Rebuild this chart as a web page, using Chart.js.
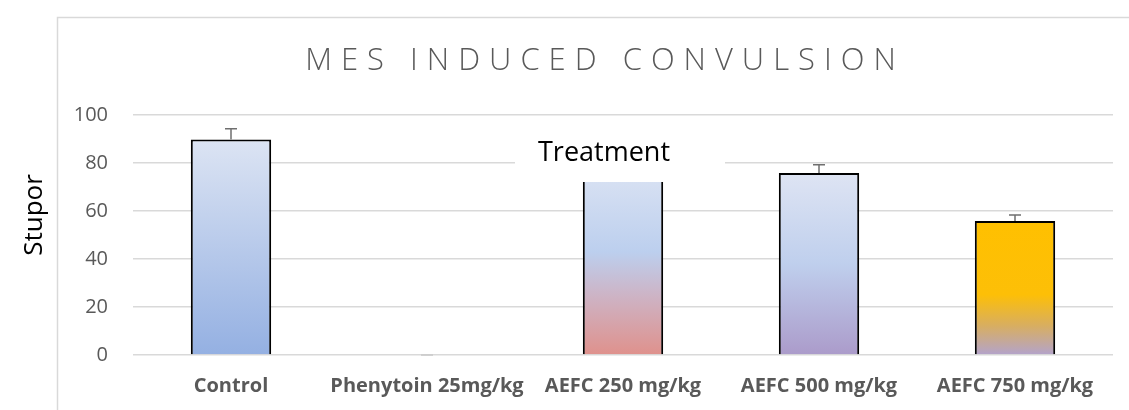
<!DOCTYPE html>
<html>
<head>
<meta charset="utf-8">
<script src="https://cdn.jsdelivr.net/npm/chart.js@4.4.1/dist/chart.umd.min.js"></script>
<style>
  html, body { margin: 0; padding: 0; background: #fff; }
  #wrap { width: 1129px; height: 410px; }
</style>
</head>
<body>
<div id="wrap"><canvas id="chart-mes"></canvas></div>
<script>
const categories = ['Control', 'Phenytoin 25mg/kg', 'AEFC 250 mg/kg', 'AEFC 500 mg/kg', 'AEFC 750 mg/kg'];
const stupor = [89.8, 0, 78, 75.8, 55.8];
const stuporErr = [4.5, 0, 4, 3.5, 2.5];
const yTicks = [0, 20, 40, 60, 80, 100];

// gradient stops per bar (top -> bottom)
const barStops = [
  [[0, '#dce4f3'], [1, '#94b0e2']],
  [[0, '#dce4f3'], [1, '#94b0e2']],
  [[0, '#dbe3f3'], [0.45, '#bccfee'], [0.68, '#cdb4c6'], [1, '#df918c']],
  [[0, '#dee4f3'], [0.5, '#bfcfed'], [1, '#ab9bca']],
  [[0, '#ffc000'], [0.55, '#fdbf07'], [0.78, '#d8ae60'], [1, '#b3a3cc']]
];

function barFill(ctx) {
  const chart = ctx.chart;
  if (!chart.chartArea || ctx.dataIndex === undefined) return '#b4c7e7';
  const y = chart.scales.y;
  const top = y.getPixelForValue(stupor[ctx.dataIndex]);
  const bottom = y.getPixelForValue(0);
  if (bottom - top < 1) return '#b4c7e7';
  const g = chart.ctx.createLinearGradient(0, top, 0, bottom);
  barStops[ctx.dataIndex].forEach(s => g.addColorStop(s[0], s[1]));
  return g;
}

const decor = {
  id: 'decor',
  beforeDraw(chart) {
    const c = chart.ctx;
    c.save();
    c.strokeStyle = '#d9d9d9';
    c.lineWidth = 1.5;
    c.beginPath();
    c.moveTo(57.5, 420);
    c.lineTo(57.5, 17.5);
    c.lineTo(1140, 17.5);
    c.stroke();
    c.restore();
  },
  afterDatasetsDraw(chart) {
    const c = chart.ctx;
    const x = chart.scales.x, y = chart.scales.y;
    c.save();
    // error bars
    c.lineWidth = 1.5;
    stupor.forEach((v, i) => {
      const px = x.getPixelForValue(i);
      const y0 = y.getPixelForValue(v);
      const y1 = y.getPixelForValue(v + stuporErr[i]);
      c.strokeStyle = v === 0 ? '#c8c8c8' : '#6f6f6f';
      c.beginPath();
      c.moveTo(px, y0);
      c.lineTo(px, y1);
      c.moveTo(px - 6, y1);
      c.lineTo(px + 6, y1);
      c.stroke();
    });
    // title
    c.fillStyle = '#595959';
    c.font = '300 31px "Open Sans"';
    c.letterSpacing = '9px';
    c.textAlign = 'center';
    c.textBaseline = 'middle';
    c.fillText('MES INDUCED CONVULSION', 605, 61);
    c.letterSpacing = '0px';
    // axis title
    c.fillStyle = '#000';
    c.font = '26px "Open Sans"';
    c.translate(35, 215);
    c.rotate(-Math.PI / 2);
    c.fillText('Stupor', 0, 0);
    c.setTransform(1, 0, 0, 1, 0, 0);
    // Treatment label box
    c.fillStyle = '#fff';
    c.fillRect(515, 126, 210, 56);
    c.fillStyle = '#000';
    c.font = '27px "Open Sans"';
    c.fillText('Treatment', 604, 153);
    c.restore();
  }
};

new Chart(document.getElementById('chart-mes').getContext('2d'), {
  type: 'bar',
  data: {
    labels: categories,
    datasets: [{
      label: 'Stupor',
      data: stupor,
      backgroundColor: barFill,
      borderColor: '#000',
      borderWidth: 2,
      borderSkipped: 'bottom',
      barPercentage: 0.41,
      categoryPercentage: 1
    }]
  },
  options: {
    responsive: true,
    maintainAspectRatio: false,
    animation: false,
    layout: { padding: { top: 115, right: 16, bottom: 0, left: 0 } },
    plugins: {
      legend: { display: false },
      tooltip: { enabled: false }
    },
    scales: {
      x: {
        grid: { display: false, drawTicks: false },
        border: { display: false },
        ticks: { color: '#595959', font: { family: 'Open Sans', size: 20, weight: 'bold' }, padding: 19, maxRotation: 0, autoSkip: false },
        afterFit(s) { s.height = 55; }
      },
      y: {
        min: 0,
        max: 100,
        afterBuildTicks(s) { s.ticks = yTicks.map(v => ({ value: v })); },
        grid: { color: '#d9d9d9', lineWidth: 1.5, drawTicks: false },
        border: { display: false },
        ticks: { color: '#595959', font: { family: 'Open Sans', size: 20 }, padding: 25 },
        afterFit(s) { s.width = 133; }
      }
    }
  },
  plugins: [decor]
});
</script>
</body>
</html>
